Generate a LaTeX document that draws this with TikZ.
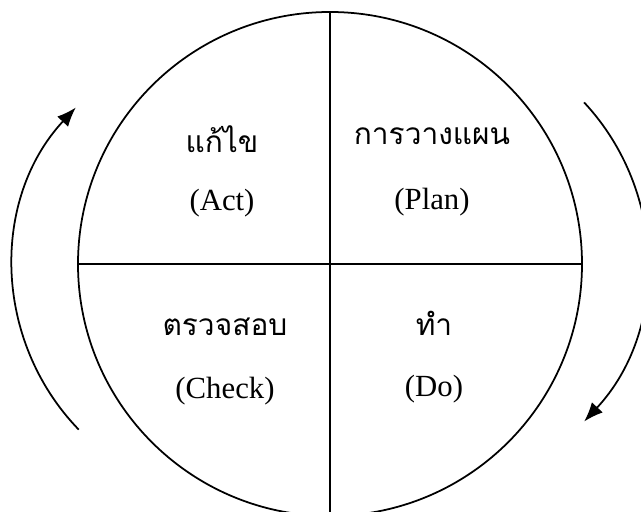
\documentclass[tikz,border=0pt]{standalone}
\usepackage{fontspec}
\setmainfont{Liberation Serif}
\newfontfamily\thaifont[Script=Thai]{Loma}
\usetikzlibrary{arrows.meta,positioning}

\begin{document}
\begin{tikzpicture}[x=0.2mm, y=0.2mm, line width=1pt, node distance=13.2mm, on grid,
  thaitext/.style={font=\thaifont\fontsize{17}{20}\selectfont, inner sep=0pt},
  engtext/.style={font=\fontsize{17.5}{21}\selectfont, inner sep=0pt},
  cyclearrow/.style={-{Latex[length=11pt,width=8.5pt]}}]
  \useasboundingbox (0,0) rectangle (641,512);
  \clip (0,0) rectangle (641,512);
  % the wheel and its four parts
  \node (pdca) [circle, draw, minimum size=100.8mm, inner sep=0pt, outer sep=0pt] at (330,248) {};
  \draw (pdca.north) -- (pdca.south);
  \draw (pdca.west) -- (pdca.east);
  % labels
  \node (actth) [thaitext] at (222,373) {แก้ไข};
  \node (acten) [engtext, below=12.8mm of actth] {(Act)};
  \node (planth) [thaitext] at (432,376) {การวางแผน};
  \node (planen) [engtext, below=of planth] {(Plan)};
  \node (checkth) [thaitext] at (225,185) {ตรวจสอบ};
  \node (checken) [engtext, below=12.8mm of checkth] {(Check)};
  \node (doth) [thaitext] at (434,189) {ทำ};
  \node (doen) [engtext, below=of doth] {(Do)};
  % arrows round the wheel
  \coordinate (leftstart) at (78.7,82.4);
  \coordinate (rightstart) at (584.1,409.6);
  \draw[cyclearrow] (leftstart) arc[start angle=224, end angle=137, radius=234];
  \draw[cyclearrow] (rightstart) arc[start angle=43, end angle=-43, radius=234];
\end{tikzpicture}
\end{document}
